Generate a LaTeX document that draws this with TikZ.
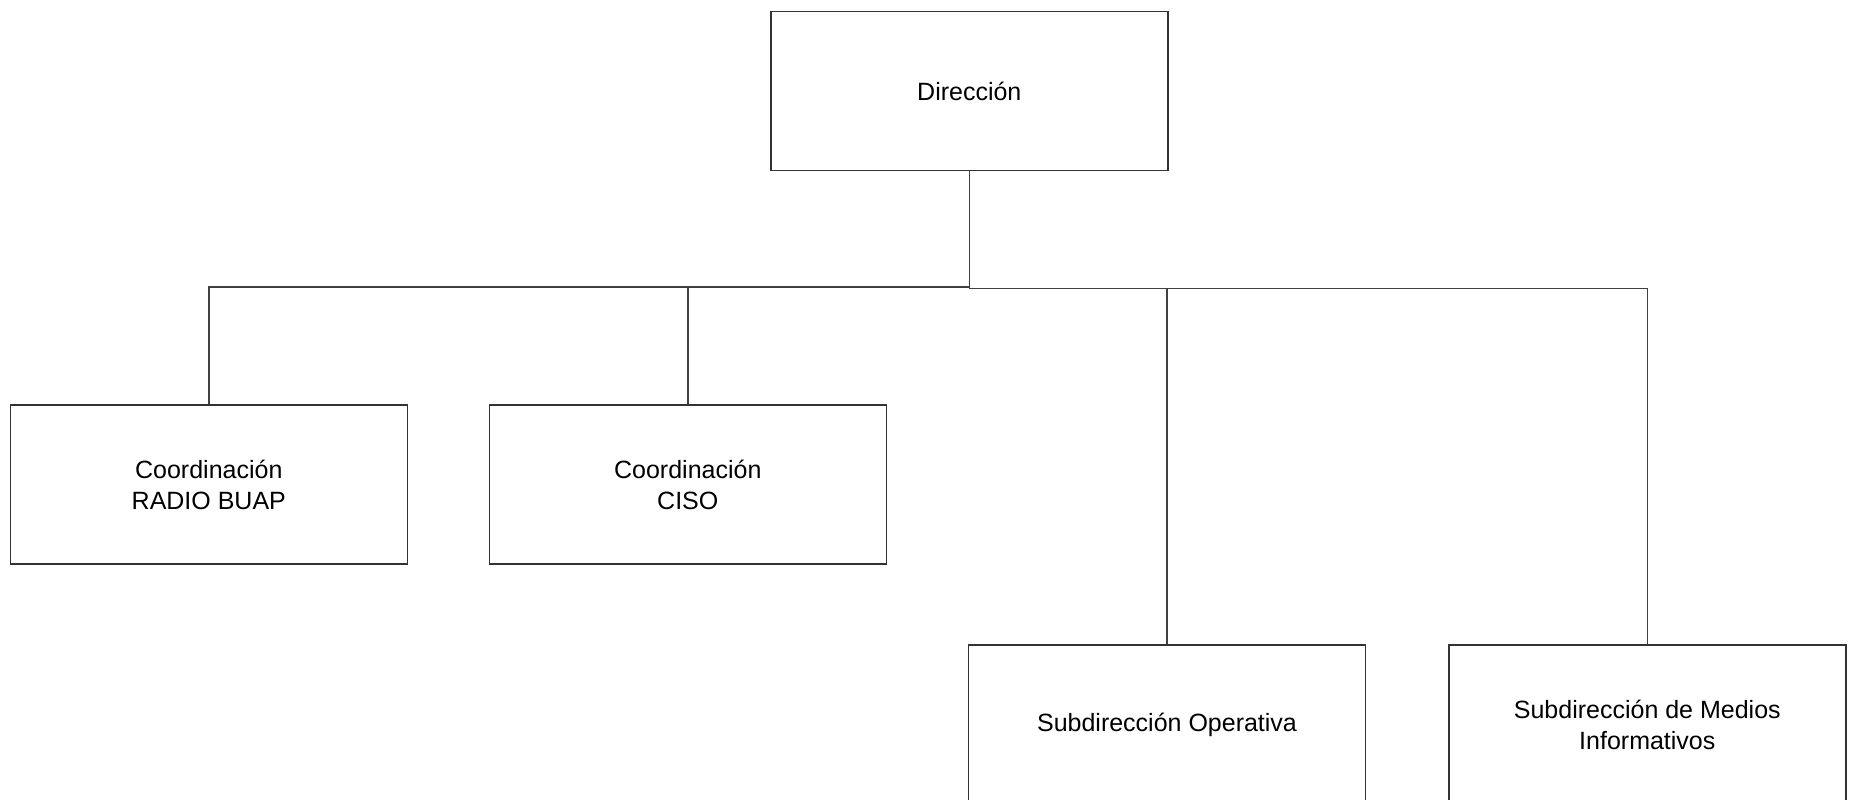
\documentclass[tikz,border=0pt]{standalone}
\usepackage{fontspec}
\setmainfont{Liberation Sans}
\begin{document}
\begin{tikzpicture}[x=0.5pt,y=-0.5pt,
  unit/.style={draw=black!80, line width=0.75pt, rectangle, inner sep=0pt,
    minimum width=198.5pt, minimum height=79.5pt, align=center,
    font=\fontsize{12.5pt}{15.5pt}\selectfont},
  link/.style={draw=black!75, line width=0.7pt}]
  \useasboundingbox (0,0) rectangle (1854,799);

  % top-level office
  \node[unit] (dir) at (969.3,91) {Dirección};

  % coordinations
  \node[unit] (radio) at (208.8,484.5) {Coordinación\\RADIO BUAP};
  \node[unit] (ciso)  at (687.8,484.5) {Coordinación\\CISO};

  % sub-directorates
  \node[unit] (ope) at (1167,724.5) {Subdirección Operativa};
  \node[unit] (med) at (1647.3,724.5) {Subdirección de Medios\\Informativos};

  % branch points below the director
  \coordinate (jl) at (dir.south |- 0,286.8);
  \coordinate (jr) at (dir.south |- 0,288.4);

  % connectors
  \draw[link] (dir.south) -- (jr);
  \draw[link] (jl) -| (radio.north);
  \draw[link] (jl) -| (ciso.north);
  \draw[link] (jr) -| (ope.north);
  \draw[link] (jr) -| (med.north);
\end{tikzpicture}
\end{document}
